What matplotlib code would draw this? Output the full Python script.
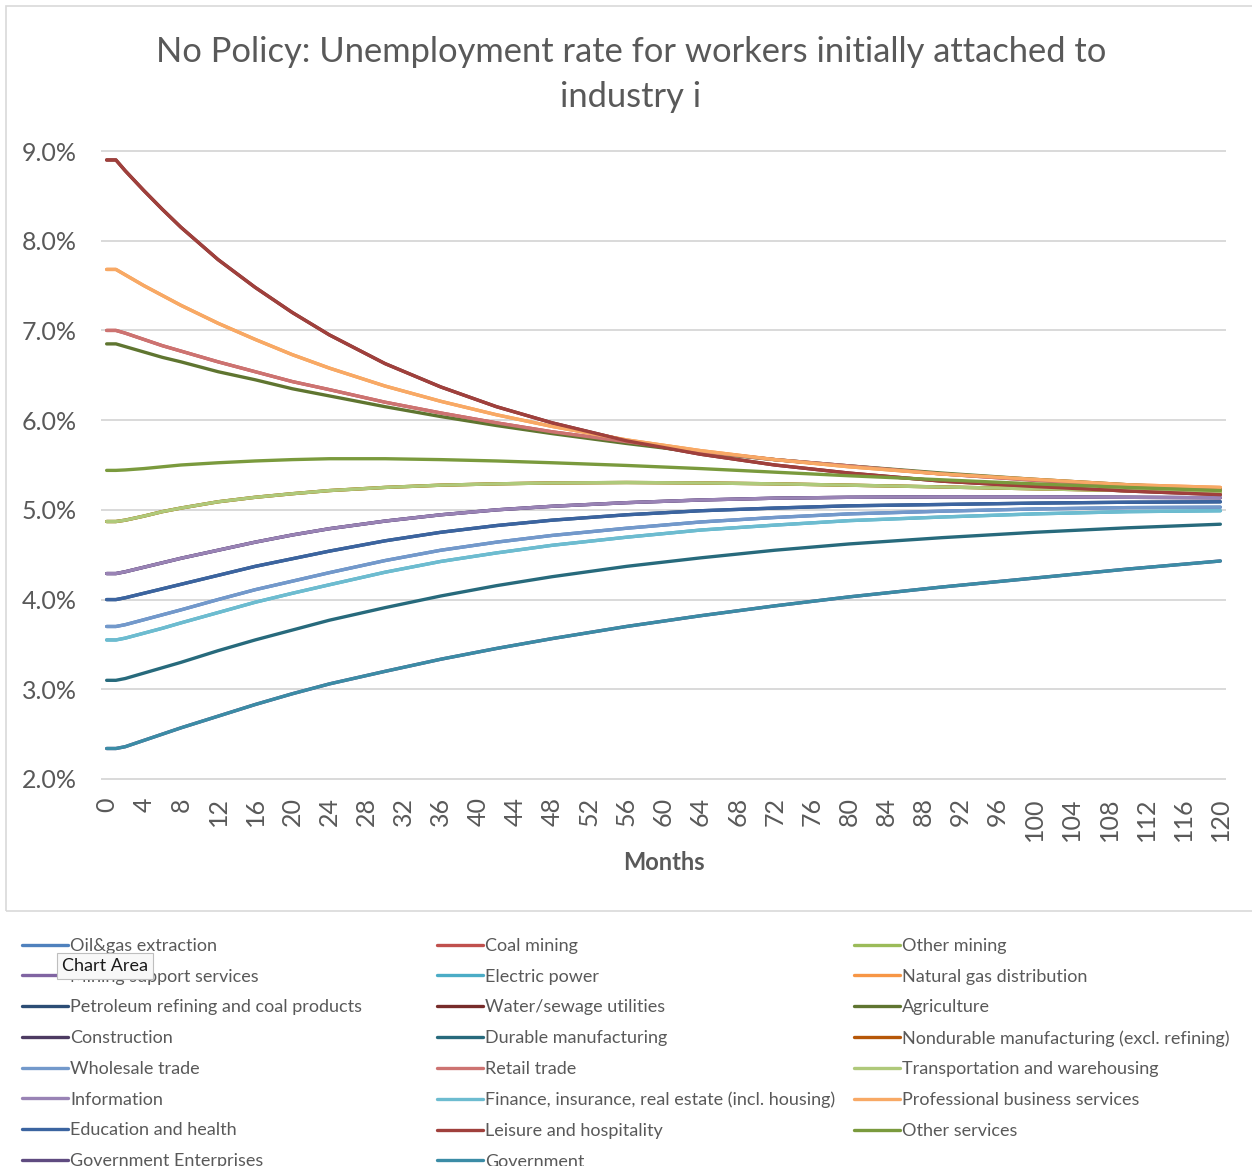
import matplotlib
matplotlib.use("Agg")
import matplotlib.pyplot as plt
from matplotlib.patches import Rectangle
from matplotlib.ticker import FuncFormatter

plt.rcParams['font.family'] = ['Lato', 'DejaVu Sans']

# ---- data (unemployment rate, %) ----
months = [0, 1, 2, 4, 6, 8, 12, 16, 20, 24, 30, 36, 42, 48, 56, 64, 72, 80, 90, 100, 110, 120]

leisure = [8.90, 8.90, 8.78, 8.56, 8.35, 8.15, 7.79, 7.48, 7.20, 6.95, 6.63, 6.37, 6.15, 5.97, 5.77, 5.62, 5.50, 5.41, 5.32, 5.26, 5.21, 5.17]
professional = [7.68, 7.68, 7.62, 7.50, 7.39, 7.28, 7.08, 6.90, 6.73, 6.58, 6.38, 6.21, 6.06, 5.93, 5.78, 5.66, 5.56, 5.48, 5.40, 5.34, 5.28, 5.25]
retail = [7.00, 7.00, 6.97, 6.90, 6.83, 6.77, 6.65, 6.54, 6.43, 6.34, 6.20, 6.08, 5.97, 5.87, 5.76, 5.65, 5.56, 5.49, 5.40, 5.33, 5.27, 5.22]
agriculture = [6.85, 6.85, 6.82, 6.76, 6.70, 6.65, 6.54, 6.45, 6.35, 6.27, 6.15, 6.04, 5.94, 5.85, 5.74, 5.64, 5.56, 5.49, 5.41, 5.34, 5.28, 5.23]
other_services = [5.44, 5.44, 5.445, 5.46, 5.48, 5.50, 5.525, 5.545, 5.56, 5.57, 5.57, 5.56, 5.545, 5.525, 5.495, 5.46, 5.42, 5.38, 5.335, 5.29, 5.25, 5.215]
transportation = [4.87, 4.87, 4.885, 4.93, 4.98, 5.02, 5.09, 5.14, 5.18, 5.215, 5.25, 5.275, 5.29, 5.30, 5.305, 5.30, 5.29, 5.275, 5.255, 5.235, 5.215, 5.20]
information = [4.29, 4.29, 4.31, 4.36, 4.41, 4.46, 4.55, 4.64, 4.72, 4.79, 4.875, 4.945, 5.00, 5.04, 5.08, 5.11, 5.13, 5.14, 5.145, 5.145, 5.14, 5.135]
education = [4.00, 4.00, 4.02, 4.07, 4.12, 4.17, 4.27, 4.37, 4.455, 4.54, 4.655, 4.75, 4.825, 4.885, 4.945, 4.99, 5.02, 5.045, 5.06, 5.075, 5.085, 5.09]
wholesale = [3.70, 3.70, 3.72, 3.775, 3.83, 3.885, 4.00, 4.11, 4.205, 4.30, 4.435, 4.55, 4.64, 4.715, 4.795, 4.865, 4.915, 4.955, 4.985, 5.01, 5.025, 5.03]
finance = [3.55, 3.55, 3.57, 3.625, 3.68, 3.74, 3.855, 3.97, 4.07, 4.165, 4.305, 4.425, 4.52, 4.605, 4.695, 4.775, 4.83, 4.88, 4.92, 4.955, 4.98, 4.99]
durable = [3.10, 3.10, 3.12, 3.18, 3.24, 3.30, 3.43, 3.55, 3.66, 3.77, 3.91, 4.04, 4.155, 4.255, 4.37, 4.465, 4.55, 4.62, 4.69, 4.75, 4.80, 4.84]
government = [2.34, 2.34, 2.36, 2.43, 2.50, 2.57, 2.70, 2.83, 2.95, 3.06, 3.20, 3.335, 3.455, 3.565, 3.70, 3.82, 3.93, 4.03, 4.14, 4.24, 4.34, 4.43]

# industries in legend order: (label, values, colour)
industries = [
    ("Oil&gas extraction", wholesale, "#4F81BD"),
    ("Coal mining", retail, "#C0504D"),
    ("Other mining", transportation, "#9BBB59"),
    ("Mining support services", information, "#8064A2"),
    ("Electric power", finance, "#4BACC6"),
    ("Natural gas distribution", professional, "#F79646"),
    ("Petroleum refining and coal products", education, "#2C4D75"),
    ("Water/sewage utilities", leisure, "#772C2A"),
    ("Agriculture", agriculture, "#5F7530"),
    ("Construction", information, "#4D3B62"),
    ("Durable manufacturing", durable, "#276A7C"),
    ("Nondurable manufacturing (excl. refining)", transportation, "#B65708"),
    ("Wholesale trade", wholesale, "#7399CB"),
    ("Retail trade", retail, "#CD7371"),
    ("Transportation and warehousing", transportation, "#AFC97A"),
    ("Information", information, "#9983B5"),
    ("Finance, insurance, real estate (incl. housing)", finance, "#6DBCD0"),
    ("Professional business services", professional, "#F8A965"),
    ("Education and health", education, "#3B64A0"),
    ("Leisure and hospitality", leisure, "#A0403C"),
    ("Other services", other_services, "#7A9A3D"),
    ("Government Enterprises", government, "#5F4B80"),
    ("Government", government, "#3B8CA6"),
]

W, H = 1252, 1166
fig = plt.figure(figsize=(W / 100, H / 100), dpi=100)
fig.patch.set_facecolor("white")


def fx(px):
    return px / W


def fy(py):
    return 1 - py / H


ax = fig.add_axes([fx(102), fy(779), fx(1225) - fx(102), fy(151) - fy(779)])

handles = []
for i, (label, vals, col) in enumerate(industries):
    ln, = ax.plot(months, vals, color=col, lw=2.4, label=label, zorder=3 + i * 0.01,
                  solid_joinstyle="round", solid_capstyle="round")
    handles.append(ln)

ax.set_xlim(-0.5, 120.5)
ax.set_ylim(2, 9)
ax.set_yticks(range(2, 10))
ax.yaxis.set_major_formatter(FuncFormatter(lambda v, p: f"{v:.1f}%"))
ax.set_xticks(range(0, 121, 4))
ax.set_xticklabels([str(m) for m in range(0, 121, 4)], rotation=90)

ax.grid(axis="y", color="#D9D9D9", lw=1.4)
ax.grid(axis="x", visible=False)
ax.set_axisbelow(True)
for gl in ax.get_ygridlines():
    gl.set_clip_on(False)
for s in ax.spines.values():
    s.set_visible(False)
ax.tick_params(axis="both", length=0, labelcolor="#595959", labelsize=18)
ax.tick_params(axis="y", pad=18)
ax.tick_params(axis="x", pad=13)

# titles
fig.text(fx(631), fy(52), "No Policy: Unemployment rate for workers initially attached to",
         ha="center", va="center", fontsize=24.8, color="#595959")
fig.text(fx(631), fy(97), "industry i", ha="center", va="center", fontsize=24.8, color="#595959")
fig.text(fx(664), fy(862), "Months", ha="center", va="center", fontsize=17,
         fontweight="bold", color="#595959")

# chart area border
fig.add_artist(Rectangle((fx(6), fy(911)), 1.2, fy(6) - fy(911), transform=fig.transFigure,
                         fill=False, ec="#D9D9D9", lw=1.2, clip_on=False))

# legend: three columns, row-major order
col_x = [22, 437, 854]
for c in range(3):
    hs = handles[c::3]
    fig.legend(hs, [h.get_label() for h in hs], loc="upper left",
               bbox_to_anchor=(fx(col_x[c]), fy(938)), frameon=False,
               fontsize=13, labelcolor="#595959", handlelength=2.55,
               handletextpad=0.12, labelspacing=0.815, borderpad=0, borderaxespad=0)

fig.text(fx(62), fy(966), "Chart Area", fontsize=13, color="#1A1A1A", va="center",
         bbox=dict(boxstyle="square,pad=0.3", fc="#F8F8F8", ec="#BEBEBE", lw=0.8),
         zorder=20)

fig.savefig("out.png", dpi=100, facecolor="white")
